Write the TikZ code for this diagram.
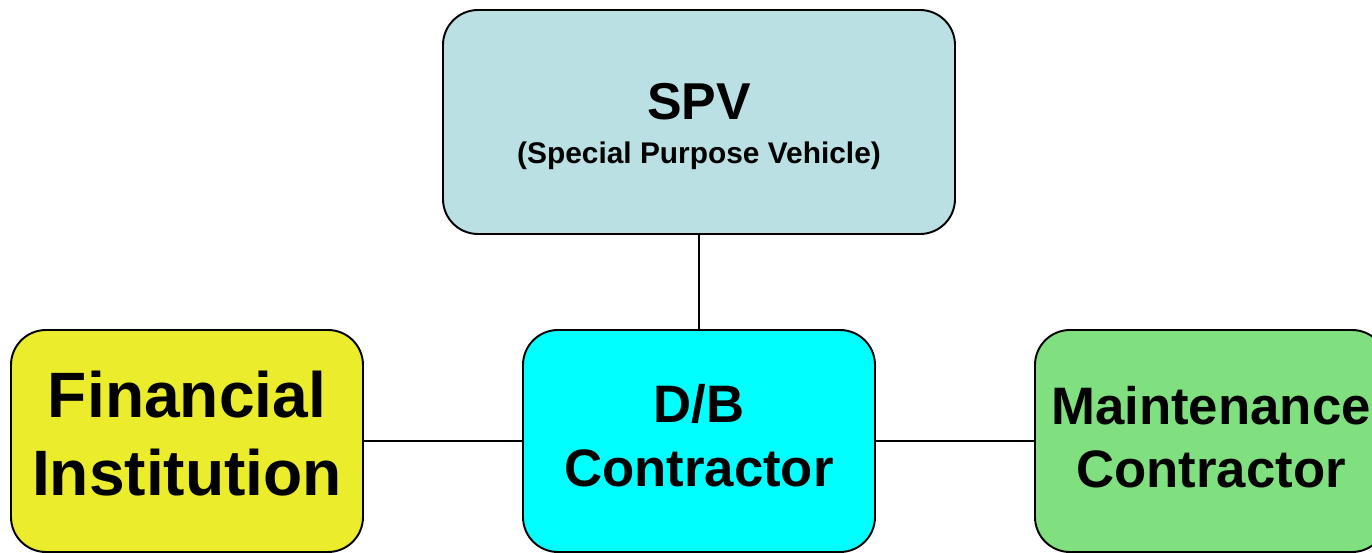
\documentclass[tikz,border=0pt]{standalone}
\usepackage{fontspec}
\setmainfont{Liberation Sans}
\usepackage{xcolor}
\usetikzlibrary{positioning}
\definecolor{spvblue}{RGB}{187,224,227}
\definecolor{finyellow}{RGB}{234,236,44}
\definecolor{dbcyan}{RGB}{0,255,255}
\definecolor{mntgreen}{RGB}{128,224,128}

\begin{document}
\begin{tikzpicture}[
  box/.style={draw, line width=1.1pt, rounded corners=0.7cm, minimum width=7.04cm,
              minimum height=4.44cm, inner sep=0pt, outer sep=0pt, align=center,
              text depth=0pt},
  bigtext/.style={font=\bfseries\fontsize{36.5}{44}\selectfont},
  midtext/.style={font=\bfseries\fontsize{30}{36}\selectfont},
  link/.style={line width=1.1pt},
]
  \useasboundingbox (0,0) rectangle (27.44,-11.06);

  % SPV on top
  \node[box, fill=spvblue, minimum width=10.24cm, minimum height=4.48cm, text height=1.66cm,
        font=\bfseries\fontsize{17}{25}\selectfont] (spv) at (13.98,-2.44)
       {{\fontsize{29.5}{30}\selectfont SPV}\\(Special Purpose Vehicle)};

  % contractors row
  \node[box, midtext, fill=dbcyan, text height=1.8cm, below=1.92cm of spv] (db) {D/B\\Contractor};
  \node[box, bigtext, fill=finyellow, text height=2.16cm, left=3.2cm of db] (fin) {Financial\\Institution};
  \node[box, midtext, fill=mntgreen, text height=1.86cm, right=3.2cm of db] (mnt) {Maintenance\\Contractor};

  % Connections
  \draw[link] (spv) -- (db);
  \draw[link] (fin) -- (db);
  \draw[link] (db) -- (mnt);
\end{tikzpicture}
\end{document}
